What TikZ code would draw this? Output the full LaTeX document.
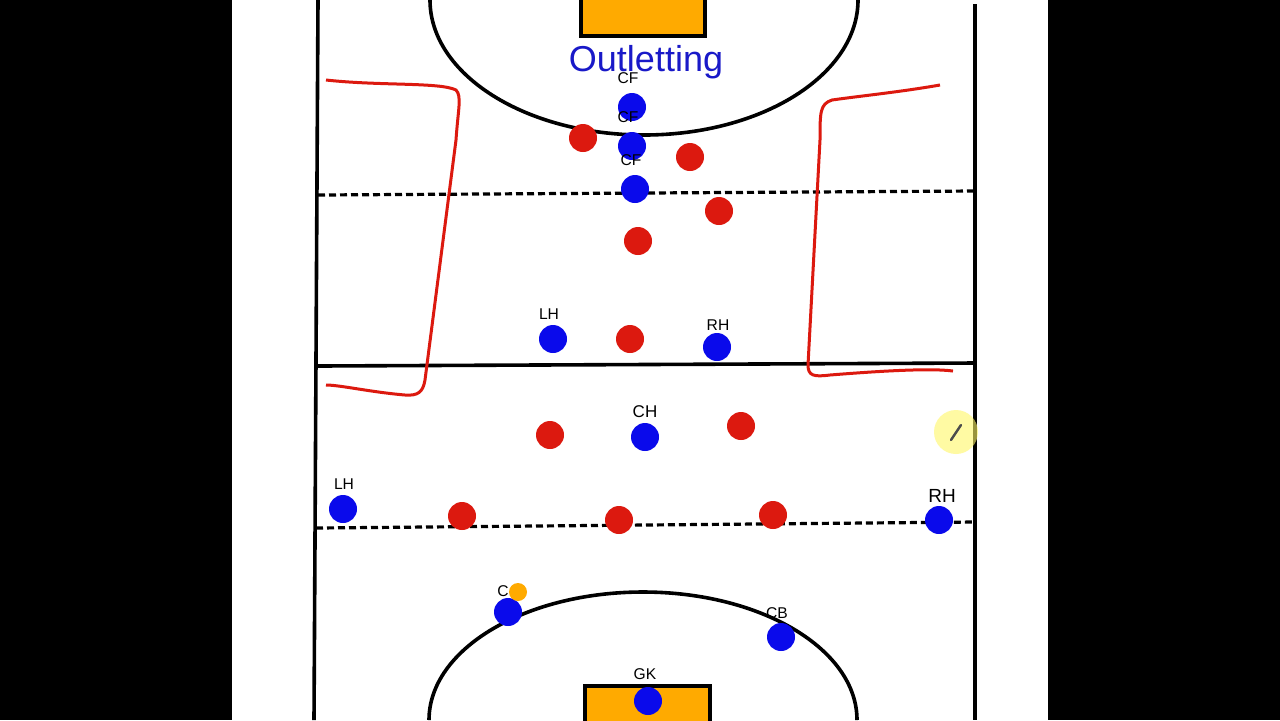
\documentclass[tikz,border=0pt]{standalone}
\usepackage{fontspec}
\setmainfont{Liberation Sans}
\definecolor{pitchblue}{RGB}{10,10,235}
\definecolor{pitchred}{RGB}{220,25,15}
\definecolor{goalorange}{RGB}{255,170,0}
\definecolor{titleblue}{RGB}{25,25,200}
\begin{document}
\begin{tikzpicture}[x=0.5pt,y=-0.5pt,
		fieldline/.style={line width=1.8pt},
		halfline/.style={line width=1.6pt,dash pattern=on 3.5pt off 2pt},
		attacker/.style={circle,fill=pitchblue,inner sep=0pt,minimum size=14pt},
		defender/.style={circle,fill=pitchred,inner sep=0pt,minimum size=14pt},
		tag/.style={font=\fontsize{7.8}{8}\selectfont,inner sep=0pt},
		scribble/.style={pitchred,line width=1.5pt,line join=round}]
	\useasboundingbox (0,0) rectangle (1280,720);
	\fill[black] (0,0) rectangle (1280,720);
	\fill[white] (232,0) rectangle (1048,720);
	% pitch
	\draw[fieldline] (318,0) -- (314,720);
	\draw[fieldline] (975,4) -- (975,720);
	\draw[fieldline] (318,366) -- (975,363);
	\draw[halfline] (318,195) -- (975,191);
	\draw[halfline] (316,528) -- (975,522);
	\draw[fieldline] (430,0) arc[start angle=180,end angle=360,x radius=214,y radius=-135];
	\draw[fieldline] (429,720) arc[start angle=180,end angle=360,x radius=214,y radius=128];
	\draw[fieldline,fill=goalorange] (581,-4) rectangle (705,36);
	\draw[fieldline,fill=goalorange] (585,686) rectangle (710,724);
	\node[text=titleblue,font=\fontsize{18}{19}\selectfont] (title) at (646,62) {Outletting};
	% red marks
	\draw[scribble] (326,80) .. controls (380,86) and (440,82) .. (456,90)
		.. controls (462,96) and (458,110) .. (456,140)
		-- (425,380) .. controls (423,392) and (418,396) .. (405,395)
		.. controls (370,392) and (340,385) .. (326,385);
	\draw[scribble] (940,85) .. controls (900,92) and (860,96) .. (832,100)
		.. controls (820,104) and (820,112) .. (820,140)
		-- (808,365) .. controls (808,376) and (814,377) .. (830,375)
		.. controls (880,371) and (930,368) .. (953,371);
	% defenders
	\foreach \x/\y [count=\i] in {583/138,690/157,719/211,638/241,630/339,
		550/435,741/426,462/516,619/520,773/515}
		\node[defender] (d\i) at (\x,\y) {};
	% attacking team
	\node[attacker] (cfa) at (632,107) {};
	\node[tag] at (628,78) {CF};
	\node[attacker] (cfb) at (632,146) {};
	\node[tag] at (628,117) {CF};
	\node[attacker] (cfc) at (635,189) {};
	\node[tag] at (631,160) {CF};
	\node[attacker] (lha) at (553,339) {};
	\node[tag] at (549,314) {LH};
	\node[attacker] (rha) at (717,347) {};
	\node[tag] at (718,325) {RH};
	\node[attacker] (ch) at (645,437) {};
	\node[tag,font=\fontsize{8.5}{9}\selectfont] at (645,412) {CH};
	\node[attacker] (lhb) at (343,509) {};
	\node[tag] at (344,484) {LH};
	\node[attacker] (rhb) at (939,520) {};
	\node[tag,font=\fontsize{9.5}{10}\selectfont] at (942,496) {RH};
	\node[attacker] (cb) at (508,612) {};
	\node[tag] at (503,591) {C};
	\node[circle,fill=goalorange,inner sep=0pt,minimum size=9pt] (ball) at (518,592) {};
	\node[attacker] (cbr) at (781,637) {};
	\node[tag] at (777,613) {CB};
	\node[attacker] (gk) at (648,701) {};
	\node[tag] at (645,674) {GK};
	% pointer
	\fill[yellow!60,opacity=0.6] (956,432) circle (11pt);
	\draw[gray!60!black,line width=1.2pt,line cap=round] (951,440) -- (961,425);
\end{tikzpicture}
\end{document}
